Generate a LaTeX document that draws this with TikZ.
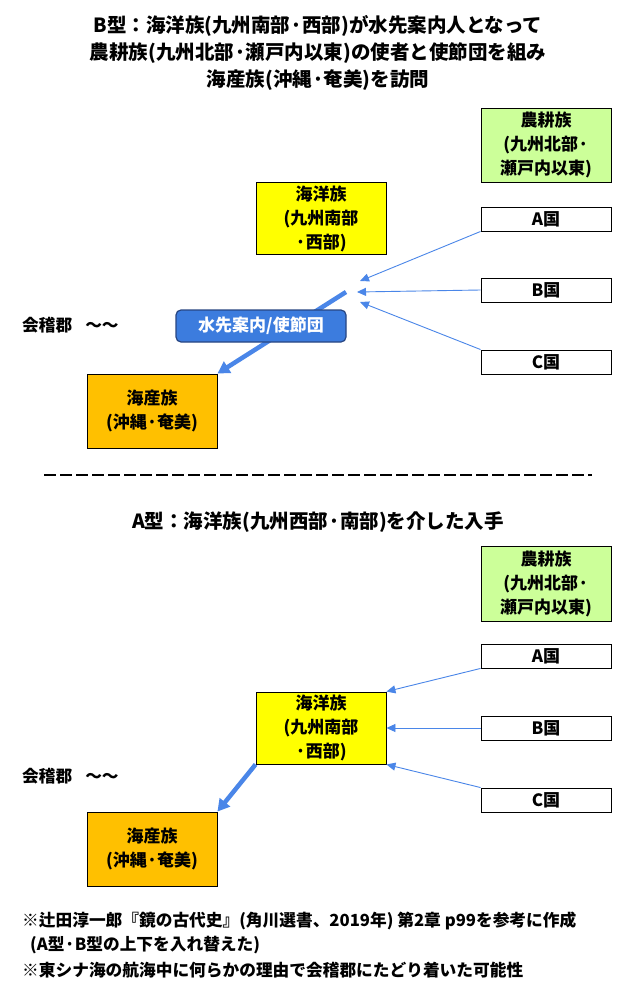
\documentclass[tikz,border=0pt]{standalone}
\usepackage{fontspec}
\setmainfont{Noto Sans CJK JP}
\usetikzlibrary{arrows.meta}
\definecolor{ygold}{RGB}{255,255,0}
\definecolor{lgreen}{RGB}{204,255,153}
\definecolor{orng}{RGB}{255,192,0}
\definecolor{arrblue}{RGB}{74,134,232}
\definecolor{lblfill}{RGB}{60,124,222}
\definecolor{lbldraw}{RGB}{40,70,130}
\tikzset{
  basebox/.style={draw=black, line width=0.9pt, minimum width=130pt, inner sep=0pt, align=center, font=\fontsize{17}{24}\selectfont\bfseries},
  greenbox/.style={basebox, fill=lgreen, minimum height=74pt},
  yellowbox/.style={basebox, fill=ygold, minimum height=72pt},
  orangebox/.style={basebox, fill=orng, minimum height=74pt},
  kunibox/.style={basebox, fill=white, minimum height=24pt},
  thinarrow/.style={draw=arrblue, line width=0.9pt, -{Triangle[length=9pt,width=8pt]}},
  thickarrow/.style={draw=arrblue, line width=4.5pt, -{Triangle[length=12pt,width=13pt]}},
  titletext/.style={align=center, font=\fontsize{19.5}{27}\selectfont\bfseries},
  plaintext/.style={font=\fontsize{16.7}{24}\selectfont\bfseries, inner sep=0pt},
  labelbox/.style={draw=lbldraw, fill=lblfill, line width=1.2pt, rounded corners=5pt, minimum width=170pt, minimum height=32pt, text=white, font=\fontsize{17}{20}\selectfont\bfseries, inner sep=0pt}
}
\begin{document}
\begin{tikzpicture}[x=1pt,y=-1pt]
\useasboundingbox[fill=white] (0,0) rectangle (641,992);

% ---------- B型 ----------
\node[titletext] (titleB) at (318,53) {B型：海洋族(九州南部·西部)が水先案内人となって\\農耕族(九州北部·瀬戸内以東)の使者と使節団を組み\\海産族(沖縄·奄美)を訪問};

\node[greenbox] (g1) at (546,145) {農耕族\\(九州北部·\\瀬戸内以東)};
\node[yellowbox] (y1) at (321,218.5) {海洋族\\(九州南部\\·西部)};
\node[kunibox] (a1) at (546,219) {A国};
\node[kunibox] (b1) at (546,290) {B国};
\node[kunibox] (c1) at (546,362) {C国};
\node[orangebox] (o1) at (152,411) {海産族\\(沖縄·奄美)};
\node[plaintext, anchor=west] (k1) at (22,325) {会稽郡\hspace{13pt}～～};

\coordinate (tA1) at (360,281);
\coordinate (tB1) at (357,292);
\coordinate (tC1) at (360,302);
\coordinate (s1) at (346,292);
\draw[thinarrow] (a1.south west) -- (tA1);
\draw[thinarrow] (b1.west) -- (tB1);
\draw[thinarrow] (c1.north west) -- (tC1);
\draw[thickarrow] (s1) -- (o1.north east);
\node[labelbox] (lbl) at (261,326) {水先案内/使節団};

% ---------- separator ----------
\coordinate (d1) at (44,475);
\coordinate (d2) at (592,475);
\draw[line width=1.2pt, dash pattern=on 12pt off 4pt] (d1) -- (d2);

% ---------- A型 ----------
\node[titletext] (titleA) at (318,522) {A型：海洋族(九州西部·南部)を介した入手};

\node[greenbox, minimum height=75pt] (g2) at (546,583.5) {農耕族\\(九州北部·\\瀬戸内以東)};
\node[kunibox] (a2) at (546,656) {A国};
\node[kunibox] (b2) at (546,728) {B国};
\node[kunibox] (c2) at (546,800) {C国};
\node[yellowbox] (y2) at (321,728) {海洋族\\(九州南部\\·西部)};
\node[orangebox] (o2) at (152,849) {海産族\\(沖縄·奄美)};
\node[plaintext, anchor=west] (k2) at (22,776) {会稽郡\hspace{13pt}～～};

\draw[thinarrow] (a2.south west) -- (y2.north east);
\draw[thinarrow] (b2.west) -- (y2.east);
\draw[thinarrow] (c2.north west) -- (y2.south east);
\draw[thickarrow] (y2.south west) -- (o2.north east);

% ---------- notes ----------
\node[plaintext, anchor=west] (n1) at (22,921) {※辻田淳一郎『鏡の古代史』(角川選書、2019年) 第2章 p99を参考に作成};
\node[plaintext, anchor=west] (n2) at (30,945) {(A型·B型の上下を入れ替えた)};
\node[plaintext, anchor=west] (n3) at (22,970) {※東シナ海の航海中に何らかの理由で会稽郡にたどり着いた可能性};
\end{tikzpicture}
\end{document}
